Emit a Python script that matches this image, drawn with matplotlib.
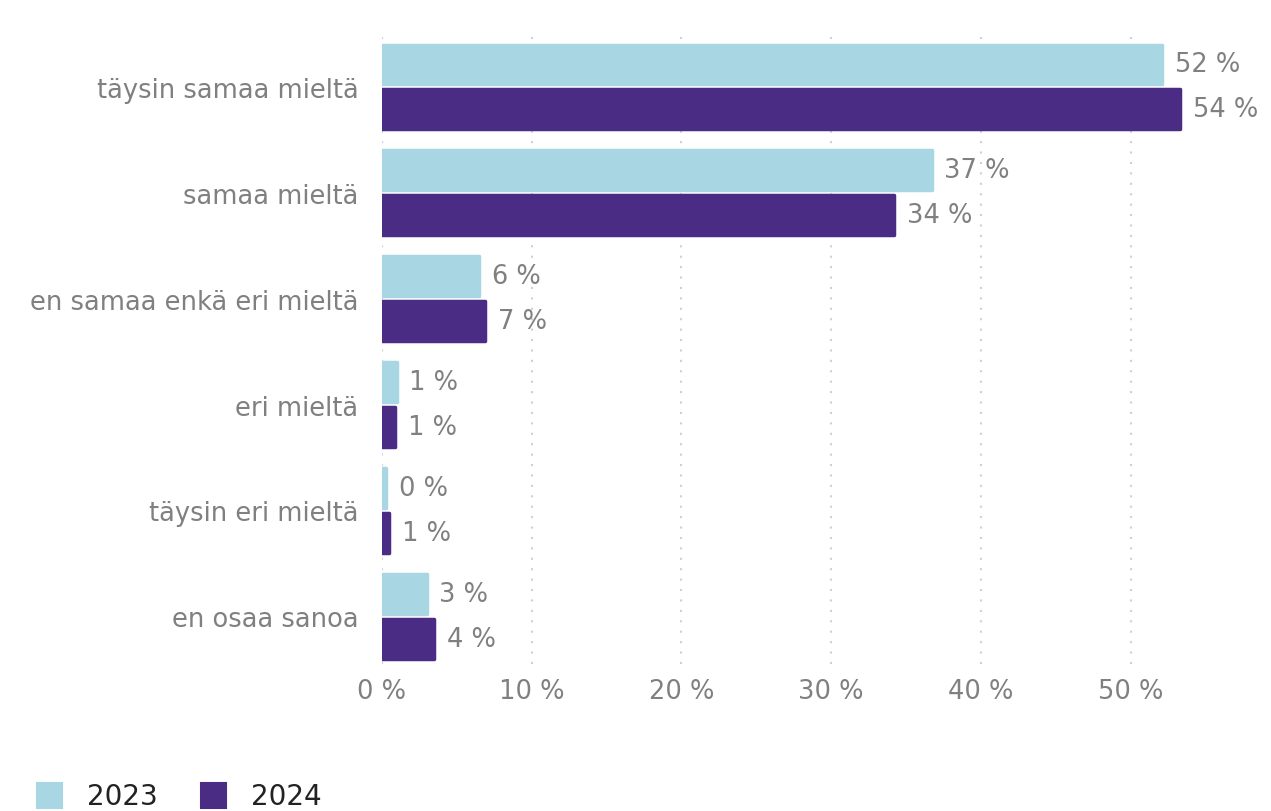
import matplotlib
matplotlib.use("Agg")
import matplotlib.pyplot as plt
from matplotlib.lines import Line2D
import numpy as np

plt.rcParams['font.family'] = ['DejaVu Sans']

categories = ['täysin samaa mieltä', 'samaa mieltä', 'en samaa enkä eri mieltä',
              'eri mieltä', 'täysin eri mieltä', 'en osaa sanoa']
vals_2023 = [52.1, 36.7, 6.5, 1.0, 0.3, 3.0]
vals_2024 = [53.3, 34.2, 6.9, 0.9, 0.5, 3.5]
labels_2023 = ['52 %', '37 %', '6 %', '1 %', '0 %', '3 %']
labels_2024 = ['54 %', '34 %', '7 %', '1 %', '1 %', '4 %']
xticks = [0, 10, 20, 30, 40, 50]

c2023 = '#a9d6e3'
c2024 = '#4b2c84'
gray = '#808080'

fig = plt.figure(figsize=(12.71, 8.12), dpi=100)
ax = fig.add_axes([0.3005, 0.181, 0.648, 0.776])

y = np.arange(len(categories))
h = 0.375
off = 0.212

b1 = ax.barh(y - off, vals_2023, height=h, color=c2023, edgecolor=c2023,
             linewidth=2.5, joinstyle='round', zorder=3)
b2 = ax.barh(y + off, vals_2024, height=h, color=c2024, edgecolor=c2024,
             linewidth=2.5, joinstyle='round', zorder=3)

for bars, labs in ((b1, labels_2023), (b2, labels_2024)):
    for bar, lab in zip(bars, labs):
        ax.annotate(lab, (bar.get_width(), bar.get_y() + bar.get_height() / 2),
                    xytext=(9, 0), textcoords='offset points', va='center',
                    ha='left', fontsize=18.5, color=gray)

ax.set_xlim(0, 55)
ax.set_ylim(len(categories) - 0.55, -0.5)
ax.set_xticks(xticks)
ax.set_xticklabels([f'{t} %' for t in xticks])
ax.set_yticks(y)
ax.set_yticklabels(categories)
ax.tick_params(axis='x', length=0, pad=10, labelsize=18.5, labelcolor=gray)
ax.tick_params(axis='y', length=0, pad=17, labelsize=18.5, labelcolor=gray)
ax.grid(axis='x', linestyle=(0, (1, 4)), color='#d0d0d0', linewidth=1.5, zorder=0)
for s in ax.spines.values():
    s.set_visible(False)

handles = [Line2D([], [], marker='s', linestyle='none', markersize=18,
                  markerfacecolor=c, markeredgecolor=c, markeredgewidth=1.5)
           for c in (c2023, c2024)]
fig.legend(handles, ['2023', '2024'], loc='lower left', bbox_to_anchor=(0.006, -0.03),
           ncol=2, frameon=False, fontsize=20, labelcolor='#222222',
           handletextpad=0.75, columnspacing=1.4, handlelength=1.2)

fig.savefig('out.png', dpi=100)
